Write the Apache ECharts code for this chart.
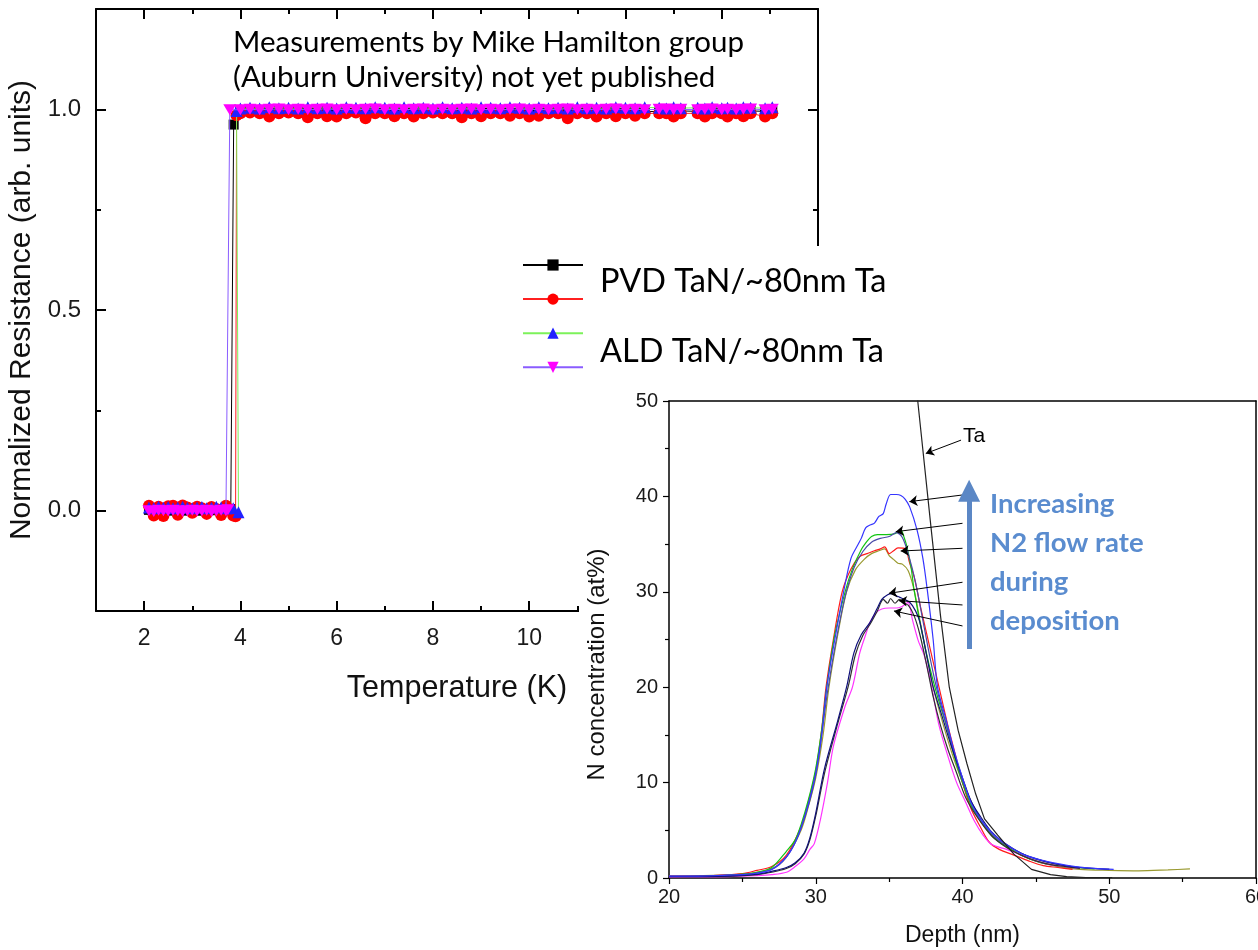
<!DOCTYPE html>
<html>
<head>
<meta charset="utf-8">
<title>TaN superconducting transition and N depth profiles</title>
<script src="https://cdn.jsdelivr.net/npm/echarts@6/dist/echarts.min.js"></script>
<style>
  html, body { margin: 0; padding: 0; background: #fff; }
  #main { width: 1258px; height: 950px; }
</style>
</head>
<body>
<div id="main"></div>
<script>
// ---- main plot: normalized resistance vs temperature ----
var tempLow = [2.1, 2.2, 2.3, 2.4, 2.5, 2.6, 2.7, 2.8, 2.9, 3.0, 3.1, 3.2, 3.3, 3.4, 3.5, 3.6, 3.7];
var tempHigh = [4.0, 4.2, 4.4, 4.6, 4.8, 5.0, 5.2, 5.4, 5.6, 5.8, 6.0, 6.2, 6.4, 6.6, 6.8, 7.0,
  7.2, 7.4, 7.6, 7.8, 8.0, 8.2, 8.4, 8.6, 8.8, 9.0, 9.2, 9.4, 9.6, 9.8, 10.0, 10.2, 10.4,
  10.6, 10.8, 11.0, 11.2, 11.4, 11.6, 11.8, 12.0, 12.2, 12.4, 12.7, 12.85, 13.0, 13.15,
  13.5, 13.65, 13.8, 14.0, 14.12, 14.3, 14.45, 14.6, 14.9, 15.05];

// PVD sample 1 (black squares)
var pvd1Low = [0.002, 0.0, 0.003, 0.001, 0.0, 0.002, 0.001, 0.003, 0.0, 0.002, 0.001, 0.0, 0.002, 0.001, 0.003, 0.0, 0.002];
var pvd1EdgeT = [3.8, 3.86];
var pvd1EdgeR = [0.004, 0.962];
var pvd1High = [0.995, 0.996, 0.995, 0.994, 0.996, 0.995, 0.996, 0.995, 0.994, 0.996, 0.995, 0.996, 0.995, 0.994, 0.996,
  0.995, 0.996, 0.995, 0.994, 0.996, 0.995, 0.996, 0.995, 0.994, 0.996, 0.995, 0.996, 0.995, 0.994, 0.996, 0.995,
  0.996, 0.995, 0.994, 0.996, 0.995, 0.996, 0.995, 0.994, 0.996, 0.995, 0.996, 0.995, 0.994, 0.996, 0.995, 0.996,
  0.995, 0.994, 0.996, 0.995, 0.996, 0.995, 0.994, 0.996, 0.995, 0.996];
// PVD sample 2 (red circles)
var pvd2Low = [0.012, -0.012, 0.01, -0.013, 0.011, 0.012, -0.01, 0.013, 0.008, -0.005, 0.01, 0.006, -0.008, 0.009, 0.004, -0.011, 0.012];
var pvd2EdgeT = [3.85, 3.9, 3.92];
var pvd2EdgeR = [-0.012, -0.014, 0.985];
var pvd2High = [0.99, 0.992, 0.99, 0.982, 0.99, 0.992, 0.99, 0.98, 0.99, 0.983, 0.982, 0.99, 0.992, 0.978, 0.99,
  0.99, 0.983, 0.99, 0.982, 0.99, 0.992, 0.99, 0.99, 0.98, 0.99, 0.983, 0.99, 0.99, 0.984, 0.99, 0.982,
  0.984, 0.99, 0.99, 0.978, 0.99, 0.99, 0.982, 0.99, 0.983, 0.99, 0.984, 0.99, 0.99, 0.99, 0.982, 0.99,
  0.99, 0.982, 0.99, 0.99, 0.982, 0.99, 0.983, 0.99, 0.982, 0.99];
// ALD sample 1 (blue triangles, green line)
var ald1Low = [0.008, 0.006, 0.01, 0.007, 0.009, 0.006, 0.008, 0.01, 0.007, 0.006, 0.008, 0.009, 0.006, 0.007, 0.01, 0.008, 0.006];
var ald1EdgeT = [3.85, 3.96, 3.92];
var ald1EdgeR = [0.006, -0.004, 0.996];
var ald1High = [1.002, 1.004, 1.002, 1.005, 1.003, 1.004, 1.002, 1.005, 1.003, 1.004, 1.002, 1.005, 1.004, 1.003, 1.005,
  1.004, 1.002, 1.005, 1.003, 1.004, 1.002, 1.005, 1.003, 1.004, 1.002, 1.005, 1.004, 1.003, 1.005, 1.004, 1.002,
  1.005, 1.003, 1.004, 1.002, 1.005, 1.003, 1.004, 1.002, 1.005, 1.004, 1.003, 1.005, 1.004, 1.002, 1.005, 1.003,
  1.004, 1.002, 1.005, 1.003, 1.004, 1.002, 1.005, 1.004, 1.003, 1.005];
// ALD sample 2 (magenta inverted triangles, violet line)
var ald2Low = [0.0, -0.002, 0.001, 0.0, -0.001, 0.001, 0.0, -0.002, 0.0, 0.001, -0.001, 0.0, 0.001, -0.002, 0.0, 0.001, 0.0];
var ald2EdgeT = [3.74, 3.78];
var ald2EdgeR = [0.002, 0.999];
var ald2High = [0.999, 1.0, 0.999, 1.0, 1.001, 0.999, 1.0, 0.999, 1.0, 1.001, 0.999, 1.0, 0.999, 1.0, 1.001,
  0.999, 1.0, 0.999, 1.0, 1.001, 0.999, 1.0, 0.999, 1.0, 1.001, 0.999, 1.0, 0.999, 1.0, 1.001, 0.999,
  1.0, 0.999, 1.0, 1.001, 0.999, 1.0, 0.999, 1.0, 1.001, 0.999, 1.0, 0.999, 1.0, 1.001, 0.999, 1.0,
  0.999, 1.0, 1.001, 0.999, 1.0, 0.999, 1.0, 1.001, 0.999, 1.0];

var tempMajor = [2, 4, 6, 8, 10, 12, 14, 16];
var resMajor = [0, 0.5, 1.0];

// ---- inset: N concentration depth profiles, [depth nm, at%] ----
var nBlue = [[20,0.2],[22,0.2],[24,0.3],[25,0.35],[26,0.5],[27,0.9],[28,2.2],[28.5,3.4],[29,5.3],[29.5,7.8],[30,11],[30.4,15],[30.75,20],[31.3,25],[31.9,30],[32.4,33.5],[32.9,35],[33.1,35.6],[33.4,36.7],[33.7,37],[34.0,37.2],[34.3,37.9],[34.6,38.2],[34.8,39.2],[35.1,40.2],[35.5,40.2],[35.8,40.1],[36.1,39.7],[36.4,38.9],[36.9,36.5],[37.3,33.5],[37.6,30.2],[38.0,25],[38.3,20],[38.9,16.5],[39.4,13.5],[40.0,10.5],[40.6,7.8],[41.2,6.2],[42.1,4.6],[43.0,3.5],[44.1,2.5],[45.3,1.9],[46.5,1.5],[47.7,1.2],[49,1.0],[50.3,0.9]];
var nGreen = [[20,0.15],[23,0.2],[25,0.4],[26,0.6],[27,1.1],[28,2.8],[28.6,4],[29,5.6],[29.5,8.2],[30,11.5],[30.4,15.5],[30.75,20],[31.3,25.5],[32.0,30],[32.5,32.4],[33.1,34.4],[33.5,35.3],[33.8,35.8],[34.2,36],[34.8,36],[35.4,36.1],[35.8,36.5],[36.0,35.8],[36.2,34.8],[36.5,32.5],[36.7,30.2],[37.2,26],[37.7,22.5],[38.3,19],[38.9,16],[39.4,13],[40.0,10],[40.6,7.6],[41.2,6.2],[42.1,4.3],[43.0,3.3],[44.1,2.3],[45.3,1.6],[46.5,1.3],[47.7,1.1],[49,0.95]];
var nSlate = [[20,0.2],[25,0.35],[27,0.9],[28,2.2],[29,5.2],[30,10.8],[30.8,19.5],[31.4,25],[32.0,29.5],[32.6,32.5],[33.2,34.2],[33.8,35.2],[34.4,35.6],[35.0,35.8],[35.5,36.2],[35.9,35.7],[36.3,34],[36.8,31],[37.3,27],[37.8,23],[38.3,19.5],[39,15.5],[40,10.2],[41,6.8],[42,4.6],[43,3.4],[44,2.6],[45,2.0],[46.5,1.4],[48,1.1],[50,0.9]];
var nRed = [[20,0.2],[23,0.25],[25,0.45],[26,0.8],[27,1.2],[28,2.4],[29,5.4],[29.5,8],[30,11.2],[30.4,15.5],[30.7,20],[31.2,25],[31.8,30],[32.4,32.4],[33.0,33.7],[33.5,34],[34.0,34.3],[34.4,34.5],[34.7,34.7],[35.0,34.0],[35.3,34.3],[35.6,34.6],[36.1,34.5],[36.4,33],[36.7,31.6],[37.2,28],[37.8,24],[38.4,20],[39,16],[39.5,13],[40,10],[40.6,7.2],[41.2,5.4],[41.8,3.8],[42.5,3.0],[43.5,2.4],[44.5,1.8],[45.5,1.3],[46.5,1.1],[47.5,0.9]];
var nOlive = [[20,0.2],[25,0.4],[27,1.0],[28,2.2],[29,5.0],[29.5,7.5],[30,10.5],[30.5,15],[30.9,20],[31.5,25.5],[32.1,30],[32.7,32.3],[33.3,33.4],[33.8,34],[34.3,34.3],[34.7,34.5],[35.0,33.8],[35.3,33.4],[35.6,33.0],[35.9,32.9],[36.3,32.2],[36.7,30.2],[37.1,27],[37.6,23],[38.0,20],[38.7,16],[39.3,13],[40,10],[40.6,7.6],[41.2,6],[42,4.4],[43,3.3],[44,2.4],[45,1.8],[46.5,1.2],[48,0.9],[50,0.8],[52,0.75],[54,0.85],[55.5,0.95]];
var nNavy = [[20,0.15],[24,0.2],[26,0.4],[27,0.7],[28,1.1],[28.6,1.6],[29.2,2.6],[29.6,4.2],[30,6.8],[30.6,11.5],[31.5,16.5],[32.1,20],[32.6,23.6],[33.1,25.5],[33.7,26.8],[34.2,28.3],[34.5,29.2],[34.9,29.7],[35.2,29.8],[35.6,29.5],[35.9,29.3],[36.4,28.9],[36.8,28],[37.1,26.8],[37.6,23],[38.0,20],[38.6,17],[39.2,14],[40,10.5],[40.6,8],[41.2,6.5],[42,4.8],[43,3.5],[44,2.6],[45,2.0],[46,1.6],[47,1.3],[48,1.1],[50,0.9]];
var nBlack = [[20,0.15],[24,0.2],[26,0.35],[27,0.6],[28,1.0],[28.6,1.5],[29.2,2.5],[29.6,4.0],[30,6.5],[30.6,11],[31.5,16.2],[32.2,20],[32.7,23.4],[33.2,25.4],[33.7,26.6],[34.2,28],[34.6,29.2],[34.9,28.8],[35.1,29.3],[35.4,28.8],[35.7,29.2],[36.0,28.8],[36.3,28.6],[36.7,27.5],[37.1,25.5],[37.6,22],[38.0,19],[38.5,16],[39,13.5],[39.6,11],[40.2,8.5],[41,6.4],[42,4.4],[43,3.2],[44,2.4],[45,1.8],[46,1.4],[47,1.2],[48,1.0]];
var nMagenta = [[20,0.1],[24,0.15],[26,0.25],[27,0.35],[28,0.6],[28.6,1.2],[29.2,2.0],[29.6,3.0],[29.9,3.6],[30.3,6],[30.8,10],[31.2,13.8],[32,18],[32.5,20],[33.0,23.6],[33.4,25.5],[33.7,26.8],[34.1,27.8],[34.5,28.2],[35.0,28.3],[35.5,28.3],[35.8,28.4],[36.1,28.7],[36.3,28.9],[36.6,27],[37.0,24.8],[37.4,23.3],[37.9,20],[38.4,16],[39,12.8],[39.6,10],[40.2,8],[40.8,6],[41.4,4.5],[42,3.5],[43,3.0],[44,2.4],[45,1.8],[46,1.4],[47,1.2],[48,1.0]];
var taProfile = [[36.75,52.7],[36.95,50],[37.85,36.8],[38.5,27.5],[39.1,20],[39.7,15.5],[40.3,12],[40.9,8.8],[41.5,6.2],[42.4,4.5],[43.5,2.5],[44.7,0.9],[46,0.35],[47.1,0.15],[48.4,0.05],[50.2,0.05]];

// arrows pointing at the curves: [from, to] in data units
var curveArrows = [
  [[40.0, 40.15], [36.38, 39.45]],
  [[40.0, 37.18], [35.45, 36.3]],
  [[40.0, 34.56], [35.79, 34.28]],
  [[40.0, 31.0], [34.99, 29.84]],
  [[40.0, 28.62], [35.67, 29.07]],
  [[40.0, 26.42], [35.33, 27.99]]
];
var taArrow = [[39.9, 45.9], [37.5, 44.5]];
var flowArrow = [[40.45, 24.0], [40.45, 40.6]];

function join(lowR, edgeT, edgeR, highR) {
  var out = [];
  tempLow.forEach(function (t, i) { out.push([t, lowR[i]]); });
  edgeT.forEach(function (t, i) { out.push([t, edgeR[i]]); });
  tempHigh.forEach(function (t, i) { out.push([t, highR[i]]); });
  return out;
}

var chart = echarts.init(document.getElementById('main'));

var tickFont = 'Liberation Sans, Arial, sans-serif';

function mainX(pos, major) {
  return {
    type: 'value', gridIndex: 0, position: pos, min: 1, max: 16, interval: 1,
    axisLine: { show: major, onZero: false, lineStyle: { color: '#000', width: 2 } },
    axisTick: major
      ? { show: true, inside: true, length: 10, customValues: tempMajor, lineStyle: { color: '#000', width: 2 } }
      : { show: true, inside: true, length: 5, lineStyle: { color: '#000', width: 2 } },
    axisLabel: (major && pos === 'bottom')
      ? { show: true, customValues: tempMajor, margin: 16, color: '#1a1a1a', fontSize: 23, fontFamily: tickFont }
      : { show: false },
    splitLine: { show: false },
    name: (major && pos === 'bottom') ? 'Temperature (K)' : '',
    nameLocation: 'middle', nameGap: 62,
    nameTextStyle: { fontSize: 30.5, color: '#111', fontFamily: tickFont },
    z: 1
  };
}
function mainY(pos, major) {
  return {
    type: 'value', gridIndex: 0, position: pos, min: -0.25, max: 1.25, interval: 0.25,
    axisLine: { show: major, onZero: false, lineStyle: { color: '#000', width: 2 } },
    axisTick: major
      ? { show: true, inside: true, length: 10, customValues: resMajor, lineStyle: { color: '#000', width: 2 } }
      : { show: true, inside: true, length: 5, lineStyle: { color: '#000', width: 2 } },
    axisLabel: (major && pos === 'left')
      ? { show: true, customValues: resMajor, margin: 15, color: '#1a1a1a', fontSize: 24, fontFamily: tickFont,
          formatter: function (v) { return v.toFixed(1); } }
      : { show: false },
    splitLine: { show: false },
    name: (major && pos === 'left') ? 'Normalized Resistance (arb. units)' : '',
    nameLocation: 'middle', nameGap: 45,
    nameTextStyle: { fontSize: 30, color: '#111', fontFamily: tickFont },
    z: 1
  };
}

function profile(name, data, color) {
  return {
    name: name, type: 'line', xAxisIndex: 4, yAxisIndex: 4, data: data,
    showSymbol: false, symbol: 'none', smooth: 0.3,
    lineStyle: { color: color, width: 1.2 }, z: 60, silent: true
  };
}

var option = {
  animation: false,
  backgroundColor: '#fff',
  grid: [
    { left: 96, right: 440, top: 9, bottom: 339, outerBoundsMode: 'none' },
    { left: 669, right: 2, top: 401, bottom: 72, outerBoundsMode: 'none' }
  ],
  xAxis: [
    mainX('bottom', true), mainX('bottom', false), mainX('top', true), mainX('top', false),
    {
      type: 'value', gridIndex: 1, position: 'bottom', min: 20, max: 60, interval: 10,
      axisLine: { onZero: false, lineStyle: { color: '#000', width: 1.5 } },
      axisTick: { inside: false, length: 6, lineStyle: { color: '#000', width: 1.2 } },
      minorTick: { show: true, splitNumber: 2, length: 4, lineStyle: { color: '#000', width: 1.2 } },
      axisLabel: { margin: 9, color: '#1a1a1a', fontSize: 20, fontFamily: tickFont },
      splitLine: { show: false },
      name: 'Depth (nm)', nameLocation: 'middle', nameGap: 46,
      nameTextStyle: { fontSize: 23, color: '#111', fontFamily: tickFont },
      z: 60
    },
    {
      type: 'value', gridIndex: 1, position: 'top', min: 20, max: 60,
      axisLine: { onZero: false, lineStyle: { color: '#000', width: 1.5 } },
      axisTick: { show: false }, axisLabel: { show: false }, splitLine: { show: false }, z: 60
    }
  ],
  yAxis: [
    mainY('left', true), mainY('left', false), mainY('right', true), mainY('right', false),
    {
      type: 'value', gridIndex: 1, position: 'left', min: 0, max: 50, interval: 10,
      axisLine: { onZero: false, lineStyle: { color: '#000', width: 1.5 } },
      axisTick: { inside: false, length: 6, lineStyle: { color: '#000', width: 1.2 } },
      minorTick: { show: true, splitNumber: 2, length: 4, lineStyle: { color: '#000', width: 1.2 } },
      axisLabel: { margin: 11, color: '#1a1a1a', fontSize: 20, fontFamily: tickFont },
      splitLine: { show: false },
      name: 'N concentration (at%)', nameLocation: 'middle', nameGap: 60,
      nameTextStyle: { fontSize: 24, color: '#111', fontFamily: tickFont, padding: [0, 50, 0, 0] },
      z: 60
    },
    {
      type: 'value', gridIndex: 1, position: 'right', min: 0, max: 50,
      axisLine: { onZero: false, lineStyle: { color: '#000', width: 1.5 } },
      axisTick: { show: false }, axisLabel: { show: false }, splitLine: { show: false }, z: 60
    }
  ],
  legend: {
    left: 517, top: 253, orient: 'vertical', itemWidth: 60, itemHeight: 14, itemGap: 21.5,
    formatter: function () { return ''; },
    data: ['PVD TaN/~80nm Ta (1)', 'PVD TaN/~80nm Ta (2)', 'ALD TaN/~80nm Ta (1)', 'ALD TaN/~80nm Ta (2)'],
    selectedMode: false, z: 80
  },
  graphic: [
    { type: 'rect', shape: { x: 579, y: 246, width: 679, height: 704 }, style: { fill: '#fff' }, z: 50, silent: true },
    { type: 'text', left: 233, top: 25, z: 80, style: {
        text: 'Measurements by Mike Hamilton group\n(Auburn University) not yet published',
        font: '29.5px Lato, sans-serif', fill: '#000', lineHeight: 35 } },
    { type: 'text', left: 600, top: 265, z: 80, style: { text: 'PVD TaN/~80nm Ta', font: '32.5px Lato, sans-serif', fill: '#000' } },
    { type: 'text', left: 600, top: 335, z: 80, style: { text: 'ALD TaN/~80nm Ta', font: '32.5px Lato, sans-serif', fill: '#000' } },
    { type: 'text', left: 963, top: 426, z: 80, style: { text: 'Ta', font: '21px Liberation Sans, Arial, sans-serif', fill: '#000' } },
    { type: 'text', left: 990, top: 485, z: 80, style: {
        text: 'Increasing\nN2 flow rate\nduring\ndeposition',
        font: 'bold 27.5px Lato, sans-serif', fill: '#5a8ccf', lineHeight: 39 } }
  ],
  series: [
    {
      name: 'PVD TaN/~80nm Ta (1)', type: 'line', xAxisIndex: 0, yAxisIndex: 0,
      data: join(pvd1Low, pvd1EdgeT, pvd1EdgeR, pvd1High),
      symbol: 'rect', symbolSize: 10, lineStyle: { color: '#000', width: 1 },
      itemStyle: { color: '#000' }, z: 2
    },
    {
      name: 'PVD TaN/~80nm Ta (2)', type: 'line', xAxisIndex: 0, yAxisIndex: 0,
      data: join(pvd2Low, pvd2EdgeT, pvd2EdgeR, pvd2High),
      symbol: 'circle', symbolSize: 12, lineStyle: { color: '#ff2020', width: 1 },
      itemStyle: { color: '#ff0000' }, z: 3
    },
    {
      name: 'ALD TaN/~80nm Ta (1)', type: 'line', xAxisIndex: 0, yAxisIndex: 0,
      data: join(ald1Low, ald1EdgeT, ald1EdgeR, ald1High),
      symbol: 'triangle', symbolSize: 12, lineStyle: { color: '#7cf25a', width: 1 },
      itemStyle: { color: '#2222ff' }, z: 4
    },
    {
      name: 'ALD TaN/~80nm Ta (2)', type: 'line', xAxisIndex: 0, yAxisIndex: 0,
      data: join(ald2Low, ald2EdgeT, ald2EdgeR, ald2High),
      symbol: 'path://M0,0 L10,0 L5,9 Z', symbolSize: [13, 11], lineStyle: { color: '#8a5cff', width: 1 },
      itemStyle: { color: '#ff00ff' }, z: 5
    },
    profile('olive', nOlive, '#9a9a30'),
    profile('red', nRed, '#ff1a1a'),
    profile('green', nGreen, '#11c511'),
    profile('slate', nSlate, '#4a4aa8'),
    profile('magenta', nMagenta, '#ff33ff'),
    profile('black', nBlack, '#303030'),
    profile('navy', nNavy, '#10107a'),
    profile('blue', nBlue, '#3535ff'),
    {
      name: 'Ta', type: 'line', xAxisIndex: 4, yAxisIndex: 4, data: taProfile,
      showSymbol: false, symbol: 'none', smooth: false, clip: true,
      lineStyle: { color: '#222', width: 1.2 }, z: 61, silent: true,
      markLine: {
        silent: true, z: 70, symbol: ['none', 'arrow'], symbolSize: 8, label: { show: false },
        emphasis: { disabled: true },
        lineStyle: { color: '#000', width: 1, type: 'solid', curveness: 0.12 },
        data: curveArrows.map(function (a) { return [{ coord: a[0] }, { coord: a[1] }]; })
          .concat([[{ coord: taArrow[0] }, { coord: taArrow[1] }]])
      }
    },
    {
      name: 'flow', type: 'line', xAxisIndex: 4, yAxisIndex: 4, data: [], z: 62, silent: true,
      markLine: {
        silent: true, z: 71, symbol: ['none', 'triangle'], symbolSize: 22, label: { show: false },
        emphasis: { disabled: true },
        lineStyle: { color: '#5b87c5', width: 5, type: 'solid' },
        data: [[{ coord: flowArrow[0] }, { coord: flowArrow[1] }]]
      }
    }
  ]
};

chart.setOption(option);
</script>
</body>
</html>
